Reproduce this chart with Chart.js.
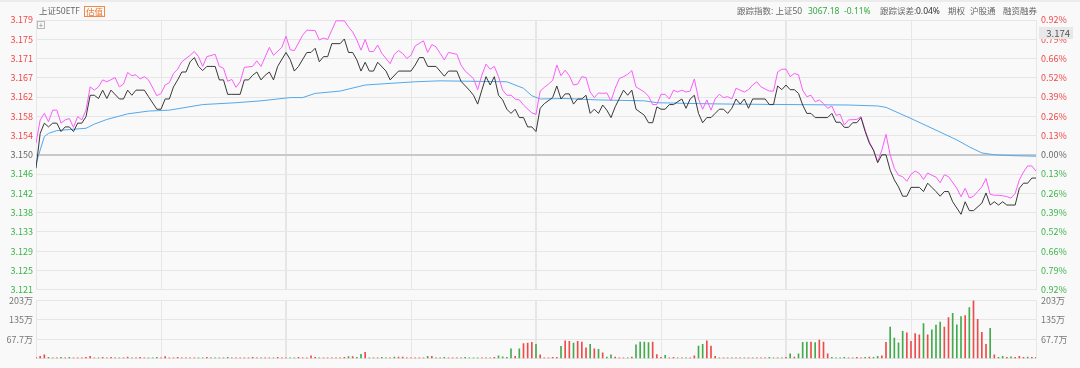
<!DOCTYPE html>
<html><head><meta charset="utf-8">
<script src="https://cdn.jsdelivr.net/npm/chart.js@4/dist/chart.umd.min.js"></script>
<style>
html,body{margin:0;padding:0;background:#f9f9f9;overflow:hidden;width:1080px;height:368px;font-family:"Noto Sans CJK SC","Noto Sans",sans-serif;}
#wrap{position:relative;width:1080px;height:368px;overflow:hidden;}
canvas{position:absolute;left:0;}
.t{position:absolute;font-family:"Noto Sans","Noto Sans CJK SC",sans-serif;font-size:8.5px;line-height:12px;white-space:nowrap;color:#666;top:4.5px;}
</style></head><body>
<div id="wrap">
<div style="position:absolute;left:0;top:0;width:1080px;height:2px;background:#ececec"></div>
<canvas id="main" width="1080" height="300" style="top:0;width:1080px;height:300px"></canvas>
<canvas id="vol" width="1080" height="79" style="top:290px;width:1080px;height:79px"></canvas>
<div class="t" style="left:39px">上证50ETF</div>
<div class="t" style="left:84px;top:5.5px;color:#ee7733;border:1px solid #f08a4b;padding:0 1px;line-height:9px">估值</div>
<div class="t" style="left:737px">跟踪指数: 上证50</div>
<div class="t" style="left:808px;color:#35a845">3067.18</div>
<div class="t" style="left:844px;color:#35a845">-0.11%</div>
<div class="t" style="left:880px">跟踪误差:</div>
<div class="t" style="left:916px;color:#333">0.04%</div>
<div class="t" style="left:948px">期权</div>
<div class="t" style="left:970px">沪股通</div>
<div class="t" style="left:1003px">融资融券</div>
<div style="position:absolute;left:37px;top:21px;width:6px;height:6px;border:1px solid #b8b8b8;font-size:8px;line-height:6px;text-align:center;color:#888;">+</div>
<div style="position:absolute;left:1039px;top:27px;width:34px;height:12px;background:#e8e8e8;color:#555;font-size:9.5px;line-height:12px;text-align:right;padding-right:3px;box-sizing:border-box;">3.174</div>
</div>
<script>
// ---- data ----
const preClose = 3.150;
const maxPct = 0.92;
const priceTickLabels = ['3.121','3.125','3.129','3.133','3.138','3.142','3.146','3.150','3.154','3.158','3.162','3.167','3.171','3.175','3.179'];
const pctTickLabels = ['0.92%','0.79%','0.66%','0.52%','0.39%','0.26%','0.13%','0.00%','0.13%','0.26%','0.39%','0.52%','0.66%','0.79%','0.92%'];
const volMax = 203;
const volTickLabels = ['', '67.7万', '135万', '203万'];
const timeGrid = [0,30,60,90,120,150,180,210,240];
const hourGrid = [60,120,180];

const priceTime = [0,1,2,3,4,5,6,7,8,9,10,11,12,13,14,15,16,17,18,20,21,22,23,24,26,27,29,30,31,32,33,34,35,36,37,38,39,40,41,43,44,45,46,47,49,50,51,52,53,54,55,56,57,58,60,61,62,63,65,66,67,68,69,70,71,73,74,75,76,77,78,79,80,81,82,84,85,87,90,91,92,93,94,96,98,99,101,102,104,105,106,107,108,109,110,111,112,113,114,115,116,117,118,119,120,121,122,124,125,126,127,128,129,130,131,132,133,134,135,136,137,138,139,141,142,143,144,146,147,148,149,150,151,152,153,155,156,157,158,159,160,161,162,163,164,165,166,167,168,169,170,171,172,175,176,177,178,179,180,181,182,183,184,185,186,187,190,191,192,193,194,195,196,197,198,199,200,201,202,203,204,205,206,207,208,209,210,212,213,214,215,216,217,218,219,220,222,223,224,225,227,228,229,230,231,232,233,235,236,237,238,239,240];
const priceValue = [3.1471,3.1546,3.1568,3.1560,3.1568,3.1568,3.1550,3.1560,3.1560,3.1550,3.1568,3.1568,3.1582,3.1628,3.1628,3.1621,3.1639,3.1621,3.1639,3.1620,3.1620,3.1639,3.1628,3.1639,3.1639,3.1625,3.1598,3.1598,3.1620,3.1620,3.1646,3.1661,3.1678,3.1678,3.1700,3.1709,3.1690,3.1681,3.1690,3.1690,3.1661,3.1661,3.1630,3.1630,3.1630,3.1661,3.1661,3.1671,3.1678,3.1661,3.1671,3.1678,3.1661,3.1690,3.1720,3.1705,3.1680,3.1690,3.1720,3.1720,3.1729,3.1700,3.1711,3.1711,3.1739,3.1739,3.1749,3.1720,3.1720,3.1704,3.1680,3.1699,3.1680,3.1680,3.1699,3.1680,3.1661,3.1680,3.1680,3.1693,3.1709,3.1709,3.1690,3.1690,3.1669,3.1680,3.1680,3.1658,3.1639,3.1628,3.1609,3.1639,3.1668,3.1650,3.1668,3.1628,3.1618,3.1598,3.1589,3.1598,3.1580,3.1580,3.1560,3.1560,3.1550,3.1600,3.1610,3.1623,3.1648,3.1620,3.1631,3.1631,3.1609,3.1620,3.1620,3.1628,3.1589,3.1598,3.1589,3.1607,3.1596,3.1580,3.1603,3.1639,3.1628,3.1639,3.1598,3.1585,3.1569,3.1569,3.1603,3.1598,3.1598,3.1608,3.1608,3.1620,3.1600,3.1620,3.1628,3.1589,3.1569,3.1580,3.1580,3.1589,3.1598,3.1598,3.1589,3.1600,3.1620,3.1609,3.1620,3.1600,3.1620,3.1620,3.1608,3.1608,3.1648,3.1640,3.1650,3.1640,3.1640,3.1632,3.1607,3.1589,3.1589,3.1580,3.1580,3.1589,3.1570,3.1570,3.1559,3.1559,3.1569,3.1569,3.1580,3.1550,3.1525,3.1510,3.1483,3.1500,3.1500,3.1467,3.1446,3.1431,3.1411,3.1411,3.1430,3.1430,3.1421,3.1439,3.1430,3.1421,3.1411,3.1421,3.1421,3.1399,3.1372,3.1399,3.1380,3.1380,3.1396,3.1418,3.1392,3.1399,3.1392,3.1399,3.1392,3.1392,3.1428,3.1439,3.1439,3.1450,3.1450];

const iopvTime = [0,1,2,3,4,5,6,7,8,9,10,11,12,13,14,15,16,17,19,20,21,22,23,24,25,26,27,29,30,31,32,33,34,35,37,38,39,40,41,43,44,45,46,47,48,49,50,52,53,54,56,57,59,60,61,62,64,65,67,68,69,70,71,72,74,75,76,77,78,79,80,81,82,83,85,86,87,88,89,90,91,93,94,95,96,97,98,99,101,102,103,105,106,107,108,109,110,111,112,113,114,115,116,117,119,120,121,122,123,124,125,126,127,128,129,130,131,132,133,134,135,136,137,138,139,140,141,142,143,144,146,147,148,149,150,151,152,153,154,155,156,157,158,159,160,161,162,163,164,165,166,167,168,169,170,171,172,173,174,176,177,178,179,180,181,182,183,184,185,186,187,188,189,190,191,192,193,194,195,197,198,199,200,201,202,203,204,205,206,207,208,209,210,211,212,213,214,215,216,217,218,219,221,222,223,224,225,226,227,228,229,230,231,232,233,234,235,236,237,238,239,240];
const iopvValue = [3.1525,3.1575,3.1589,3.1571,3.1596,3.1596,3.1568,3.1575,3.1578,3.1559,3.1582,3.1575,3.1596,3.1646,3.1639,3.1646,3.1661,3.1657,3.1666,3.1646,3.1652,3.1677,3.1670,3.1672,3.1663,3.1668,3.1661,3.1627,3.1632,3.1650,3.1655,3.1675,3.1684,3.1700,3.1714,3.1722,3.1711,3.1690,3.1711,3.1716,3.1690,3.1686,3.1658,3.1662,3.1645,3.1657,3.1688,3.1690,3.1702,3.1690,3.1731,3.1714,3.1731,3.1755,3.1726,3.1724,3.1757,3.1768,3.1767,3.1747,3.1751,3.1748,3.1768,3.1788,3.1788,3.1775,3.1764,3.1747,3.1725,3.1748,3.1722,3.1722,3.1736,3.1718,3.1696,3.1716,3.1724,3.1718,3.1707,3.1714,3.1734,3.1745,3.1720,3.1737,3.1732,3.1718,3.1704,3.1720,3.1716,3.1693,3.1680,3.1664,3.1640,3.1671,3.1695,3.1684,3.1690,3.1668,3.1639,3.1628,3.1628,3.1620,3.1618,3.1607,3.1590,3.1587,3.1637,3.1645,3.1652,3.1660,3.1693,3.1670,3.1682,3.1670,3.1650,3.1652,3.1668,3.1666,3.1635,3.1623,3.1633,3.1632,3.1633,3.1616,3.1643,3.1664,3.1668,3.1673,3.1681,3.1646,3.1635,3.1626,3.1608,3.1608,3.1630,3.1630,3.1620,3.1639,3.1635,3.1639,3.1635,3.1637,3.1663,3.1620,3.1598,3.1618,3.1596,3.1620,3.1630,3.1623,3.1625,3.1620,3.1643,3.1639,3.1635,3.1640,3.1650,3.1657,3.1646,3.1637,3.1637,3.1678,3.1684,3.1684,3.1668,3.1675,3.1672,3.1639,3.1625,3.1628,3.1614,3.1618,3.1610,3.1600,3.1605,3.1585,3.1587,3.1564,3.1575,3.1576,3.1582,3.1553,3.1528,3.1510,3.1485,3.1510,3.1544,3.1500,3.1471,3.1456,3.1453,3.1443,3.1458,3.1465,3.1460,3.1447,3.1461,3.1456,3.1452,3.1440,3.1457,3.1453,3.1428,3.1410,3.1428,3.1407,3.1411,3.1421,3.1431,3.1449,3.1415,3.1413,3.1413,3.1412,3.1410,3.1407,3.1417,3.1446,3.1463,3.1476,3.1476,3.1465];

const avgTime = [0,1,2,3,5,9,12,14,17,22,27,32,40,48,54,61,64,67,73,79,84,91,97,113,115,117,119,121,127,135,146,149,159,167,195,202,204,210,216,221,224,227,230,235,240];
const avgValue = [3.1481,3.1510,3.1539,3.1546,3.1552,3.1555,3.1557,3.1566,3.1576,3.1588,3.1594,3.1596,3.1608,3.1612,3.1616,3.1623,3.1623,3.1632,3.1637,3.1650,3.1653,3.1657,3.1659,3.1657,3.1650,3.1643,3.1627,3.1620,3.1621,3.1618,3.1616,3.1612,3.1610,3.1609,3.1607,3.1605,3.1602,3.1578,3.1553,3.1532,3.1517,3.1504,3.1500,3.1498,3.1497];

// volume per minute, in 万
const volume = [
 4,8,13,4,3,3,4,3,4,3,
 3,3,4,8,3,3,4,3,4,3,
 3,3,5,3,3,4,3,3,3,4,
 3,7,3,3,4,3,3,3,3,3,
 3,4,3,3,3,3,4,3,3,3,
 3,3,4,3,3,3,3,3,4,3,
 3,3,3,4,3,3,10,4,3,3,
 3,3,3,3,4,7,7,4,15,22,
 3,3,3,4,3,3,5,5,5,3,
 3,3,3,3,8,8,3,3,4,3,
 3,3,3,4,3,3,3,3,3,3,
 4,10,6,4,34,8,34,52,54,57,
 50,13,3,3,4,4,43,62,60,54,
 60,58,38,50,34,32,20,5,13,5,
 3,3,3,5,48,58,58,56,58,14,
 4,11,3,4,3,3,3,3,10,44,
 50,62,44,8,3,3,3,3,3,3,
 3,3,3,3,3,3,4,3,3,3,
 4,17,5,17,57,58,58,56,65,58,
 17,4,3,3,4,3,3,4,3,4,
 5,4,8,10,57,110,72,55,95,90,
 60,87,83,122,83,100,117,127,110,143,
 158,118,147,150,178,203,137,92,50,106,
 13,4,8,4,6,4,8,4,5,4,4];
// u = up (red), d = down (green)
const volumeDir = ("uuuduududu"+"uuuuududuu"+"duuduuuddd"+"uuuuuuuuud"+"duudduduuu"+"uuuuduuduu"+"udduuuuudu"+"uuuuududdu"+"duudduduuu"+"uuuudududu"+
 "uuddddduud"+"udddduduuu"+"duuuuuduud"+"uuudududdu"+"uududddduu"+"uduududuud"+"duuuduuduu"+"duduuuddud"+"ududdduduu"+"udddduduud"+
 "udduuddddu"+"uuududdduu"+"ddduduuuud"+"udduduuuduu").split('');

// ---- drawing ----
const FONT = '"Noto Sans CJK SC","Noto Sans",sans-serif';
Chart.defaults.font.family = FONT;
const RED = '#f04848', GREEN = '#3cb44a', GRAY = '#666';
const mid = (priceTickLabels.length - 1) / 2;
const lo = preClose * (1 - maxPct / 100), hi = preClose * (1 + maxPct / 100);
const pts = (t, v) => t.map((x, k) => ({x, y: v[k]}));
const isHour = c => c.tick && hourGrid.includes(c.tick.value);

function xScale() {
  return {
    type: 'linear', min: 0, max: 240, offset: false,
    afterBuildTicks: s => { s.ticks = timeGrid.map(v => ({value: v})); },
    afterFit: s => { s.height = 0; },
    ticks: {display: false},
    border: {display: false},
    grid: {offset: false, drawTicks: false,
      color: c => isHour(c) ? '#e6e6e6' : '#e7e7e7',
      lineWidth: c => isHour(c) ? 2 : 1}
  };
}
const labelColor = c => c.index > mid ? RED : (c.index < mid ? GREEN : GRAY);
const priceTicksBuild = s => { s.ticks = priceTickLabels.map((_, k) => ({value: preClose * (1 + (k - mid) / mid * maxPct / 100)})); };

new Chart(document.getElementById('main'), {
  type: 'line',
  data: {datasets: [
    {data: pts(priceTime, priceValue), borderColor: '#383838', borderWidth: 1, pointRadius: 0, tension: 0},
    {data: pts(iopvTime, iopvValue), borderColor: '#fb5cfb', borderWidth: 1, pointRadius: 0, tension: 0},
    {data: pts(avgTime, avgValue), borderColor: '#55a8ea', borderWidth: 1, pointRadius: 0, tension: 0}
  ]},
  options: {
    responsive: false, animation: false, events: [],
    layout: {padding: {top: 20, bottom: 10, left: 0, right: 0}},
    plugins: {legend: {display: false}, tooltip: {enabled: false}},
    scales: {
      x: xScale(),
      y: {position: 'left', min: lo, max: hi,
        afterBuildTicks: priceTicksBuild,
        afterFit: s => { s.width = 36; },
        border: {display: false},
        ticks: {autoSkip: false, padding: 3, font: {size: 9}, color: labelColor,
          callback: (v, i) => priceTickLabels[i]},
        grid: {drawTicks: false, color: c => c.index === mid ? '#c9c9c9' : '#e6e6e6',
          lineWidth: c => c.index === mid ? 2 : 1}},
      y2: {position: 'right', min: lo, max: hi,
        afterBuildTicks: priceTicksBuild,
        afterFit: s => { s.width = 44; },
        border: {display: false},
        ticks: {autoSkip: false, padding: 5, font: {size: 9}, color: labelColor,
          callback: (v, i) => pctTickLabels[i]},
        grid: {drawOnChartArea: false, drawTicks: false}}
    }
  }
});

const volTicksBuild = s => { s.ticks = volTickLabels.map((_, k) => ({value: volMax * k / (volTickLabels.length - 1)})); };
new Chart(document.getElementById('vol'), {
  type: 'bar',
  data: {datasets: [{
    data: volume.map((v, i) => ({x: i, y: v})),
    backgroundColor: volumeDir.map(d => d === 'u' ? '#ee4c4c' : '#43ab4e'),
    barThickness: 1, borderWidth: 0
  }]},
  options: {
    responsive: false, animation: false, events: [],
    layout: {padding: {top: 9.5, bottom: 0, left: 0, right: 0}},
    plugins: {legend: {display: false}, tooltip: {enabled: false}},
    scales: {
      x: xScale(),
      y: {position: 'left', min: 0, max: volMax,
        afterBuildTicks: volTicksBuild,
        afterFit: s => { s.width = 36; },
        border: {display: false},
        ticks: {autoSkip: false, padding: 3, font: {size: 9}, color: '#777',
          callback: (v, i) => volTickLabels[i]},
        grid: {drawTicks: false, color: '#e6e6e6'}},
      y2: {position: 'right', min: 0, max: volMax,
        afterBuildTicks: volTicksBuild,
        afterFit: s => { s.width = 44; },
        border: {display: false},
        ticks: {autoSkip: false, padding: 5, font: {size: 9}, color: '#777',
          callback: (v, i) => volTickLabels[i]},
        grid: {drawOnChartArea: false, drawTicks: false}}
    }
  }
});
</script>
</body></html>
